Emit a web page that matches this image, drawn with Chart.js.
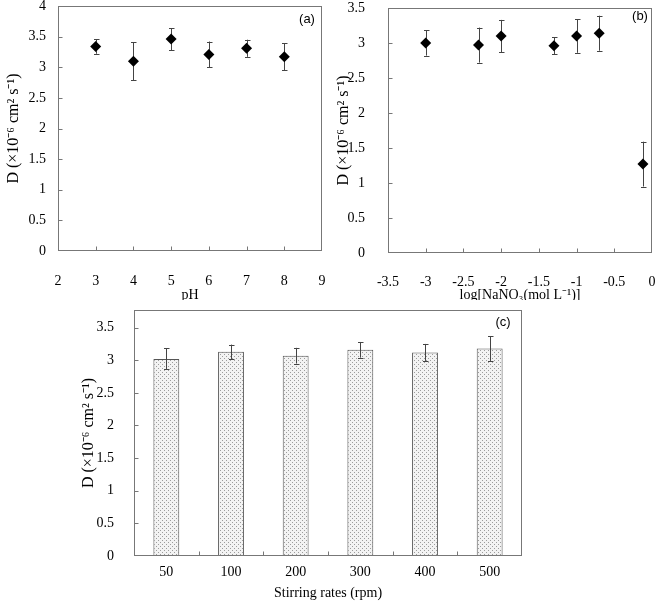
<!DOCTYPE html>
<html>
<head>
<meta charset="utf-8">
<script src="https://cdn.jsdelivr.net/npm/chart.js@4.4.0/dist/chart.umd.min.js"></script>
<style>
  body { margin: 0; background: #fff; width: 661px; height: 602px; position: relative; overflow: hidden; }
  canvas { position: absolute; }
</style>
</head>
<body>
<canvas id="chart-a" width="330" height="300" style="left:0;top:0"></canvas>
<canvas id="chart-b" width="331" height="300" style="left:330px;top:0"></canvas>
<canvas id="chart-c" width="460" height="302" style="left:70px;top:300px"></canvas>
<script>
// (a) effect of pH
const phValues = [3, 4, 5, 6, 7, 8];
const phD = [3.34, 3.10, 3.46, 3.21, 3.31, 3.17];
const phErr = [0.12, 0.31, 0.18, 0.21, 0.14, 0.22];

// (b) effect of ionic strength
const logNaNO3 = [-3, -2.3, -2, -1.3, -1, -0.7, -0.12];
const saltD = [3.00, 2.97, 3.10, 2.96, 3.10, 3.14, 1.27];
const saltErr = [0.18, 0.25, 0.23, 0.12, 0.24, 0.25, 0.32];

// (c) effect of stirring rate
const stirLabels = ['50', '100', '200', '300', '400', '500'];
const stirD = [3.02, 3.13, 3.07, 3.16, 3.12, 3.18];
const stirErr = [0.16, 0.11, 0.12, 0.12, 0.13, 0.19];

const yTitle = 'D (×10⁻⁶ cm² s⁻¹)';
const serifFamily = '"Liberation Serif", "Times New Roman", serif';
const serif = { family: serifFamily, size: 14 };
const serifBig = { family: serifFamily, size: 16 };

// error bars drawn through the scales
const errorBarPlugin = {
    id: 'errorBars',
    beforeDatasetsDraw(chart, args, opts) { if (!opts.onTop) drawErrors(chart, opts); },
    afterDatasetsDraw(chart, args, opts) { if (opts.onTop) drawErrors(chart, opts); }
};

function drawErrors(chart, opts) {
    const ctx = chart.ctx;
    const yAxis = chart.scales.y;
    const meta = chart.getDatasetMeta(0);
    const values = chart.data.datasets[0].data;
    ctx.save();
    ctx.strokeStyle = '#444';
    ctx.lineWidth = 1;
    meta.data.forEach((el, i) => {
        const v = typeof values[i] === 'object' ? values[i].y : values[i];
        const x = Math.round(el.x) + 0.5;
        const top = yAxis.getPixelForValue(v + opts.errors[i]);
        const bot = yAxis.getPixelForValue(v - opts.errors[i]);
        ctx.beginPath();
        ctx.moveTo(x, top); ctx.lineTo(x, bot);
        ctx.moveTo(x - 2.5, Math.round(top) + 0.5); ctx.lineTo(x + 3, Math.round(top) + 0.5);
        ctx.moveTo(x - 2.5, Math.round(bot) + 0.5); ctx.lineTo(x + 3, Math.round(bot) + 0.5);
        ctx.stroke();
    });
    ctx.restore();
}

// box around the plot, inner tick marks and panel letter
const framePlugin = {
    id: 'frame',
    afterDraw(chart, args, opts) {
        const { ctx, chartArea: a, scales } = chart;
        const l = Math.round(a.left) + 0.5, r = Math.round(a.right) - 0.5;
        const t = Math.round(a.top) + 0.5, b = Math.round(a.bottom) - 0.5;
        ctx.save();
        ctx.strokeStyle = '#777';
        ctx.lineWidth = 1;
        ctx.strokeRect(l, t, r - l, b - t);
        ctx.beginPath();
        scales.y.ticks.forEach(tk => {
            const y = Math.round(scales.y.getPixelForValue(tk.value)) + 0.5;
            if (y > t + 1 && y < b - 1) { ctx.moveTo(l, y); ctx.lineTo(l + 4, y); }
        });
        if (opts.categoryTicks) {
            const n = scales.x.ticks.length;
            for (let i = 1; i < n; i++) {
                const x = Math.round((scales.x.getPixelForValue(i - 1) + scales.x.getPixelForValue(i)) / 2) + 0.5;
                ctx.moveTo(x, b); ctx.lineTo(x, b - 4);
            }
        } else {
            scales.x.ticks.forEach(tk => {
                const x = Math.round(scales.x.getPixelForValue(tk.value)) + 0.5;
                if (x > l + 1 && x < r - 1) { ctx.moveTo(x, b); ctx.lineTo(x, b - 4); }
            });
        }
        ctx.stroke();
        ctx.fillStyle = '#000';
        ctx.font = '13px "Liberation Sans", Arial, sans-serif';
        ctx.textAlign = 'center';
        ctx.textBaseline = 'middle';
        ctx.fillText(opts.label, a.right - opts.dx, a.top + opts.dy);
        ctx.restore();
    }
};

// fixed axis size, no extra label padding around the plot
function fixSize(prop, size) {
    return s => {
        s[prop] = size;
        s.paddingLeft = 0; s.paddingRight = 0; s.paddingTop = 0; s.paddingBottom = 0;
    };
}

function yScale(max, width, pad, titlePad) {
    return {
        min: 0, max: max,
        ticks: { stepSize: 0.5, includeBounds: false, padding: pad, color: '#000', font: serif, callback: v => String(v) },
        grid: { display: false },
        border: { display: false },
        title: { display: true, text: yTitle, color: '#000', font: serifBig, padding: titlePad },
        afterFit: fixSize('width', width)
    };
}

function xLinear(min, max, title, height, tickPad, titlePadBottom) {
    return {
        type: 'linear', min: min, max: max,
        ticks: { stepSize: (max - min) / 7, padding: tickPad, color: '#000', font: serif, callback: v => String(Math.round(v * 10) / 10) },
        grid: { display: false },
        border: { display: false },
        title: { display: true, text: title, color: '#000', font: serif, padding: { top: 0, bottom: titlePadBottom } },
        afterFit: fixSize('height', height)
    };
}

function disegnaScatter(idCanvas, xs, ys, errs, cfg) {
    new Chart(document.getElementById(idCanvas), {
        type: 'scatter',
        data: {
            datasets: [{
                data: xs.map((x, i) => ({ x: x, y: ys[i] })),
                pointStyle: 'rectRot',
                pointRadius: 5.5,
                pointHoverRadius: 5.5,
                backgroundColor: '#000',
                borderColor: '#000',
                borderWidth: 0
            }]
        },
        options: {
            responsive: false,
            animation: false,
            layout: { padding: cfg.padding },
            plugins: {
                legend: { display: false },
                tooltip: { enabled: false },
                errorBars: { errors: errs, onTop: false },
                frame: cfg.frame
            },
            scales: {
                x: xLinear(cfg.xMin, cfg.xMax, cfg.xTitle, cfg.xHeight, cfg.xTickPad, cfg.xTitlePad),
                y: yScale(cfg.yMax, 58, cfg.yPad, 4)
            }
        },
        plugins: [errorBarPlugin, framePlugin]
    });
}

disegnaScatter('chart-a', phValues, phD, phErr, {
    xMin: 2, xMax: 9, yMax: 4, xTitle: 'pH', xHeight: 49, xTickPad: 14, xTitlePad: -4, yPad: 4,
    padding: { top: 6, right: 8, left: 0, bottom: 0 },
    frame: { label: '(a)', dx: 15, dy: 13 }
});

disegnaScatter('chart-b', logNaNO3, saltD, saltErr, {
    xMin: -3.5, xMax: 0, yMax: 3.5, xTitle: 'log[NaNO₃(mol L⁻¹)]', xHeight: 47, xTickPad: 13, xTitlePad: -4, yPad: 15,
    padding: { top: 8, right: 9, left: 0, bottom: 0 },
    frame: { label: '(b)', dx: 12, dy: 8 }
});

// dotted fill of the bars
function makeDotPattern() {
    const c = document.createElement('canvas');
    c.width = 4; c.height = 4;
    const g = c.getContext('2d');
    g.fillStyle = '#f3f3f3';
    g.fillRect(0, 0, 4, 4);
    g.fillStyle = '#9c9c9c';
    g.fillRect(0, 0, 1, 1);
    g.fillRect(2, 2, 1, 1);
    return g.createPattern(c, 'repeat');
}

new Chart(document.getElementById('chart-c'), {
    type: 'bar',
    data: {
        labels: stirLabels,
        datasets: [{
            data: stirD,
            backgroundColor: makeDotPattern(),
            borderColor: '#555',
            borderWidth: 1,
            barPercentage: 0.4,
            categoryPercentage: 1
        }]
    },
    options: {
        responsive: false,
        animation: false,
        layout: { padding: { top: 10, right: 8, left: 0, bottom: 0 } },
        plugins: {
            legend: { display: false },
            tooltip: { enabled: false },
            errorBars: { errors: stirErr, onTop: true },
            frame: { label: '(c)', dx: 19, dy: 12, categoryTicks: true }
        },
        scales: {
            x: {
                ticks: { padding: 0, color: '#000', font: serif },
                grid: { display: false },
                border: { display: false },
                title: { display: true, text: 'Stirring rates (rpm)', color: '#000', font: serif, padding: { top: 0, bottom: 0 } },
                afterFit: fixSize('height', 46)
            },
            y: yScale(3.77, 64, 12, 9)
        }
    },
    plugins: [errorBarPlugin, framePlugin]
});
</script>
</body>
</html>
